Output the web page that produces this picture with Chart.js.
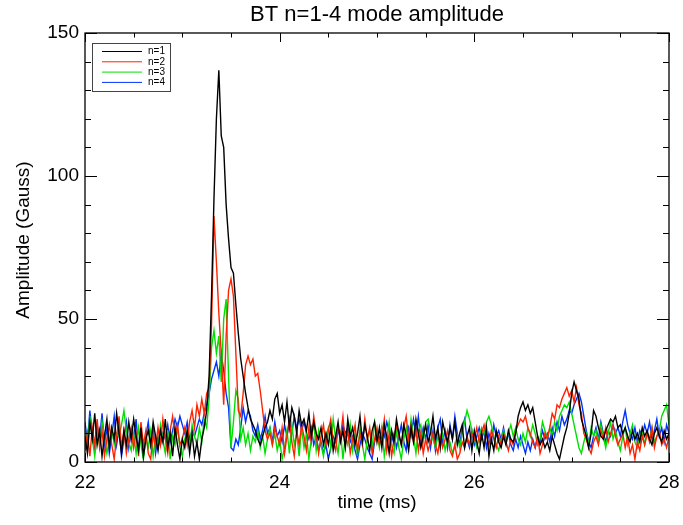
<!DOCTYPE html>
<html lang="en">
<head>
<meta charset="UTF-8">
<title>BT n=1-4 mode amplitude</title>
<script src="https://cdn.jsdelivr.net/npm/chart.js"></script>
<style>
  body { margin: 0; background: #fff; }
</style>
</head>
<body>
<canvas id="chart" width="683" height="525"></canvas>
<script>
// sample grid: 22.0 ms .. 28.0 ms every 0.025 ms
const t0 = 22.0;
const dt = 0.025;

const names = ['n=1', 'n=2', 'n=3', 'n=4'];
const colors = ['#000000', '#ff2200', '#00e000', '#0033ff'];
const xTicks = [22, 24, 26, 28];
const yTicks = [0, 50, 100, 150];
const yTitle = 'Amplitude (Gauss)';

const n1 = [
  9,3,14,8,17,6,11,2,9,15, 5,12,8,17,10,3,11,6,14,8, 15,9,4,12,2,8,11,6,14,9, 4,11,7,15,5,10,2,12,6,1,
  8,5,11,3,10,2,7,1,8,12, 18,30,58,92,120,137,114,110,90,78, 68,66,55,45,36,30,24,19,15,13, 11,8,6,9,12,14,18,15,22,24,
  17,20,14,21,12,19,16,10,18,13, 15,11,17,9,14,10,8,12,6,10, 6,12,4,9,14,7,11,5,15,9, 12,6,10,16,7,13,9,4,11,14,
  7,12,5,13,9,3,11,7,15,10, 6,13,9,4,12,7,15,10,5,9, 13,7,10,16,8,12,5,14,10,7, 12,8,14,6,10,13,5,9,12,4,
  11,7,3,10,5,12,2,8,4,11, 7,5,9,6,11,8,7,10,16,19, 21,18,20,17,19,14,9,6,8,5, 7,4,9,6,3,1,5,9,12,17,
  24,28,25,22,15,12,9,5,10,18, 16,12,9,8,11,13,15,14,16,12, 13,10,12,9,7,11,8,10,7,12, 9,11,8,6,10,12,9,7,11,8,10
];
const n2 = [
  4,10,2,12,6,15,5,11,2,8, 13,6,1,9,16,5,11,3,8,12, 5,10,2,14,6,11,3,1,10,5, 12,6,15,8,3,11,16,9,13,6,
  8,12,6,14,18,12,20,16,22,17, 24,26,48,86,70,52,38,20,44,60, 64,58,38,18,16,24,34,37,34,36, 30,31,25,18,11,8,10,6,12,9,
  6,12,3,9,15,7,2,11,6,13, 9,4,12,7,16,10,3,9,13,6, 11,15,7,4,12,9,16,6,11,3, 8,13,4,10,6,15,8,12,3,8,
  12,6,9,15,4,10,2,8,13,9, 6,12,16,8,13,7,11,4,10,3, 8,4,7,10,6,3,9,5,8,11, 4,2,6,1,3,7,5,9,6,10,
  8,12,7,10,13,9,6,11,8,5, 9,6,10,7,4,8,6,11,13,15, 14,16,12,10,7,5,9,3,6,10, 8,12,17,15,20,19,22,24,26,23,
  25,21,26,20,17,10,8,5,3,7, 9,6,11,8,12,7,10,13,9,6, 8,10,5,9,3,6,1,7,4,9, 6,10,7,12,5,9,11,6,8,5,9
];
const n3 = [
  12,5,16,8,2,11,6,14,9,3, 8,12,6,10,9,13,18,11,7,4, 10,3,12,6,1,8,5,11,2,9, 5,13,8,3,11,1,9,6,12,5,
  2,8,11,5,13,9,6,12,7,15, 12,22,40,46,38,44,28,50,57,30, 5,14,25,22,8,12,6,10,4,9, 7,11,5,9,3,8,12,6,10,4,
  8,1,5,11,3,13,6,10,2,12, 5,10,1,8,14,4,11,6,2,9, 12,5,15,8,3,11,1,9,6,13, 4,10,2,12,6,1,8,11,5,14,
  10,5,12,2,8,14,6,3,11,5, 1,8,12,6,15,9,3,11,13,7, 14,15,11,8,5,9,6,10,4,8, 7,3,6,9,5,10,14,18,15,11,
  8,5,9,12,10,14,16,13,9,6, 4,8,11,7,10,13,9,12,8,6, 10,7,12,9,13,10,6,8,14,11, 8,12,9,14,11,16,18,20,19,21,
  17,13,9,5,3,7,10,6,12,9, 11,7,13,9,5,10,14,8,11,7, 4,9,12,6,10,13,7,5,9,11, 6,10,8,12,7,9,11,16,18,20,13
];
const n4 = [
  14,7,18,10,4,13,8,17,6,12, 3,9,16,6,12,2,8,14,5,11, 8,15,4,11,2,9,14,6,12,3, 9,6,10,8,13,7,11,15,12,16,
  13,10,14,8,11,9,12,15,13,17, 20,24,29,32,35,30,38,32,24,19, 5,4,8,6,12,19,14,18,16,11, 9,13,8,11,16,10,12,7,14,9,
  11,7,13,9,14,10,16,12,15,11, 14,10,8,12,6,9,4,7,3,6, 1,5,9,7,11,8,13,10,12,7, 9,4,1,6,10,8,5,3,1,7,
  10,8,12,9,14,11,7,10,5,9, 13,7,4,12,9,15,10,16,7,12, 8,13,5,11,4,12,15,7,11,5, 13,8,16,10,6,12,15,8,5,11,
  6,9,12,8,11,5,10,7,13,9, 11,8,12,7,10,6,4,8,5,9, 6,3,7,4,8,5,9,7,11,8, 10,7,12,9,14,11,16,13,15,18,
  17,20,22,24,21,16,11,7,5,9, 12,8,14,10,7,11,9,13,10,12, 9,14,18,13,10,8,12,7,11,9, 13,10,14,8,11,15,9,12,7,13,10
];

const series = [n1, n2, n3, n4];
const time = n1.map((v, i) => t0 + i * dt);

const fontFamily = '"Liberation Sans", Arial, sans-serif';

// IDL style box: frame, inward ticks on all sides, legend box, y title
const framePlugin = {
  id: 'frame',
  afterDraw(chart) {
    const { ctx, chartArea: a, scales: { x, y } } = chart;
    ctx.save();
    ctx.strokeStyle = '#000';
    ctx.lineWidth = 1.3;
    ctx.strokeRect(a.left, a.top, a.right - a.left, a.bottom - a.top);

    ctx.lineWidth = 1;
    ctx.beginPath();
    for (let k = 0; k <= 12; k++) {
      const v = 22 + k * 0.5;
      const px = Math.round(x.getPixelForValue(v)) + 0.5;
      const len = (k % 4 === 0) ? 9 : 4.5;
      ctx.moveTo(px, a.bottom); ctx.lineTo(px, a.bottom - len);
      ctx.moveTo(px, a.top); ctx.lineTo(px, a.top + len);
    }
    for (let v = 0; v <= 150; v += 10) {
      const py = Math.round(y.getPixelForValue(v)) + 0.5;
      const len = (v % 50 === 0) ? 12 : 6;
      ctx.moveTo(a.left, py); ctx.lineTo(a.left + len, py);
      ctx.moveTo(a.right, py); ctx.lineTo(a.right - len, py);
    }
    ctx.stroke();

    // y axis title
    ctx.save();
    ctx.translate(24, 240);
    ctx.rotate(-Math.PI / 2);
    ctx.fillStyle = '#000';
    ctx.font = '19px ' + fontFamily;
    ctx.textAlign = 'center';
    ctx.textBaseline = 'middle';
    ctx.fillText(yTitle, 0, 0);
    ctx.restore();

    // legend
    const bx = 92, by = 43, bw = 78, bh = 48;
    ctx.fillStyle = '#fff';
    ctx.fillRect(bx, by, bw, bh);
    ctx.strokeStyle = '#444';
    ctx.strokeRect(bx + 0.5, by + 0.5, bw, bh);
    ctx.font = '10px ' + fontFamily;
    ctx.textBaseline = 'middle';
    ctx.textAlign = 'left';
    chart.data.datasets.forEach((ds, i) => {
      const ly = 51.5 + i * 10.3;
      ctx.strokeStyle = ds.borderColor;
      ctx.lineWidth = 1;
      ctx.beginPath();
      ctx.moveTo(102, ly); ctx.lineTo(142, ly);
      ctx.stroke();
      ctx.fillStyle = '#000';
      ctx.fillText(ds.label, 148, ly);
    });
    ctx.restore();
  }
};

const font = { family: fontFamily, size: 19 };

new Chart(document.getElementById('chart'), {
  type: 'line',
  data: {
    datasets: series.map((s, i) => ({
      label: names[i],
      data: s.map((v, j) => ({ x: time[j], y: v })),
      borderColor: colors[i],
      borderWidth: 1.4,
      pointRadius: 0,
      tension: 0,
      fill: false
    }))
  },
  options: {
    responsive: false,
    animation: false,
    layout: { padding: { top: 0, right: 14, bottom: 0, left: 0 } },
    plugins: {
      legend: { display: false },
      tooltip: { enabled: false },
      title: {
        display: true,
        text: 'BT n=1-4 mode amplitude',
        fullSize: false,
        color: '#000',
        font: { family: fontFamily, size: 22, weight: 'normal' },
        padding: { top: 2, bottom: 4.6 }
      }
    },
    scales: {
      x: {
        type: 'linear',
        min: 22,
        max: 28,
        afterBuildTicks: s => { s.ticks = xTicks.map(v => ({ value: v })); },
        afterFit: s => { s.height = 63; s.paddingLeft = 0; s.paddingRight = 0; },
        grid: { display: false, drawTicks: false },
        border: { display: false },
        ticks: { color: '#000', font: font, padding: 9, maxRotation: 0 },
        title: { display: true, text: 'time (ms)', color: '#000', font: font, padding: { top: 0, bottom: 11 } }
      },
      y: {
        type: 'linear',
        min: 0,
        max: 150,
        afterBuildTicks: s => { s.ticks = yTicks.map(v => ({ value: v })); },
        afterFit: s => { s.width = 85; s.paddingTop = 0; s.paddingBottom = 0; },
        grid: { display: false, drawTicks: false },
        border: { display: false },
        ticks: { color: '#000', font: font, padding: 6 },
        title: { display: false }
      }
    }
  },
  plugins: [framePlugin]
});
</script>
</body>
</html>
